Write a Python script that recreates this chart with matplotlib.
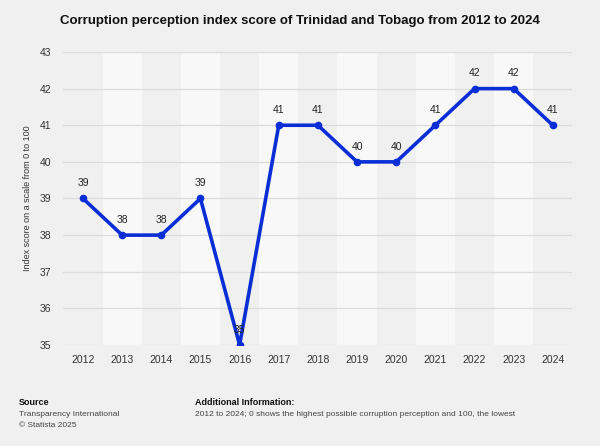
import matplotlib.pyplot as plt

years = [2012, 2013, 2014, 2015, 2016, 2017, 2018, 2019, 2020, 2021, 2022, 2023, 2024]
scores = [39, 38, 38, 39, 35, 41, 41, 40, 40, 41, 42, 42, 41]
yticks = [35, 36, 37, 38, 39, 40, 41, 42, 43]

plt.rcParams["font.family"] = ["Liberation Sans", "DejaVu Sans"]

fig = plt.figure(figsize=(6, 4.46), dpi=100, facecolor="#f0f0f0")
ax = fig.add_axes([0.1057, 0.2265, 0.8483, 0.6569])
ax.set_facecolor("#f0f0f0")

# alternating column bands
for i, yr in enumerate(years):
    if i % 2 == 1:
        ax.axvspan(yr - 0.5, yr + 0.5, color="#f8f8f8", zorder=0, lw=0)

for v in yticks:
    ax.axhline(v, color="#dcdcdc", lw=0.9, zorder=1)

ax.plot(years, scores, color="#0a2ed6", lw=2.6, marker="o", ms=4.5, zorder=3)
for x, y in zip(years, scores):
    ax.text(x, y + 0.28, str(y), ha="center", va="bottom", fontsize=7.5, color="#222222", zorder=4)

ax.set_xlim(years[0] - 0.5, years[-1] + 0.5)
ax.set_ylim(35, 43)
ax.set_xticks(years)
ax.set_yticks(yticks)
ax.tick_params(axis="both", length=0, labelsize=7.5, colors="#333333")
ax.tick_params(axis="x", pad=7)
ax.tick_params(axis="y", pad=9)
for s in ax.spines.values():
    s.set_visible(False)
ax.set_ylabel("Index score on a scale from 0 to 100", fontsize=6.5, color="#333333")
ax.yaxis.set_label_coords(-0.062, 0.5)

fig.text(0.5, 0.952, "Corruption perception index score of Trinidad and Tobago from 2012 to 2024",
         ha="center", va="center", fontsize=9.5, fontweight="bold", color="#111111")

fig.text(0.032, 0.097, "Source", fontsize=6.5, fontweight="bold", color="#111111", va="center")
fig.text(0.032, 0.070, "Transparency International", fontsize=6, color="#444444", va="center")
fig.text(0.032, 0.047, "© Statista 2025", fontsize=6, color="#444444", va="center")
fig.text(0.325, 0.097, "Additional Information:", fontsize=6.5, fontweight="bold", color="#111111", va="center")
fig.text(0.325, 0.070, "2012 to 2024; 0 shows the highest possible corruption perception and 100, the lowest",
         fontsize=6, color="#444444", va="center")

fig.savefig("out.png", dpi=100, facecolor=fig.get_facecolor())
